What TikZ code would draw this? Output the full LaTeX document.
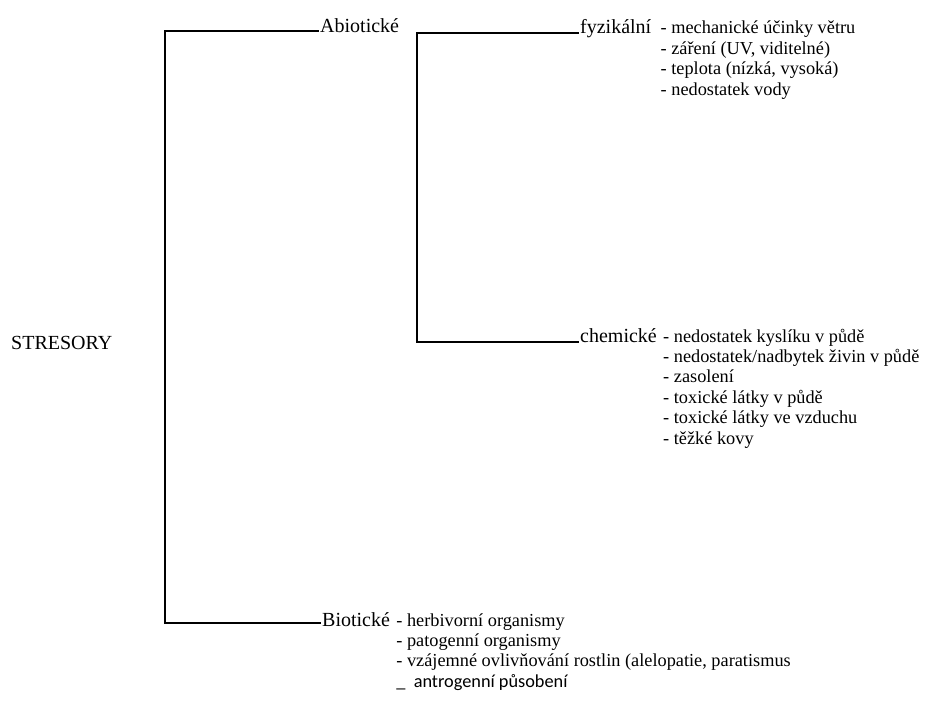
\documentclass[tikz,border=0pt]{standalone}
\usepackage{fontspec}
\setmainfont{Liberation Serif}
\newfontfamily\carlito{Carlito}
\usetikzlibrary{positioning}

\tikzset{
  lbl/.style={inner sep=0pt, anchor=base west, font=\fontsize{20}{24}\selectfont},
  lst/.style={inner sep=0pt, anchor=base west, font=\fontsize{18.3}{20.4}\selectfont},
  bracket/.style={line width=2.6pt, line cap=rect},
}

\begin{document}
\begin{tikzpicture}[x=1pt, y=-1pt]
    \useasboundingbox (0,0) rectangle (928,706);

    \node [lbl] (root) at (11,349) {STRESORY};

    \node [lbl] (abio) at (320,33) {Abiotické};
    \node [lbl] (bio) at (322,626) {Biotické};

    \node [lbl] (fyz) at (580,34) {fyzikální};
    \node [lbl] (chem) at (580,342) {chemické};

    % lists
    \foreach \t [count=\i from 0] in {- mechanické účinky větru, {- záření (UV, viditelné)}, {- teplota (nízká, vysoká)}, - nedostatek vody}
      \node [lst] (fyz\i) at ([xshift=9pt, yshift=-20.4*\i pt]fyz.base east) {\t};
    \foreach \t [count=\i from 0] in {- nedostatek kyslíku v půdě, - nedostatek/nadbytek živin v půdě, - zasolení, - toxické látky v půdě, - toxické látky ve vzduchu, - těžké kovy}
      \node [lst] (chem\i) at ([xshift=6pt, yshift=-20.4*\i pt]chem.base east) {\t};
    \foreach \t [count=\i from 0] in {- herbivorní organismy, - patogenní organismy, {- vzájemné ovlivňování rostlin (alelopatie, paratismus}, {{\carlito \_\ \ antrogenní působení}}}
      \node [lst] (bio\i) at ([xshift=6pt, yshift=-20.4*\i pt]bio.base east) {\t};

    % brackets
    \draw [bracket] ([xshift=-2pt, yshift=2pt]abio.base west) -- ++(-153,0) |- ([xshift=-2pt, yshift=3pt]bio.base west);
    \draw [bracket] ([xshift=-2pt, yshift=1pt]fyz.base west) -- ++(-161,0) |- ([xshift=-2pt, yshift=0pt]chem.base west);
\end{tikzpicture}
\end{document}
